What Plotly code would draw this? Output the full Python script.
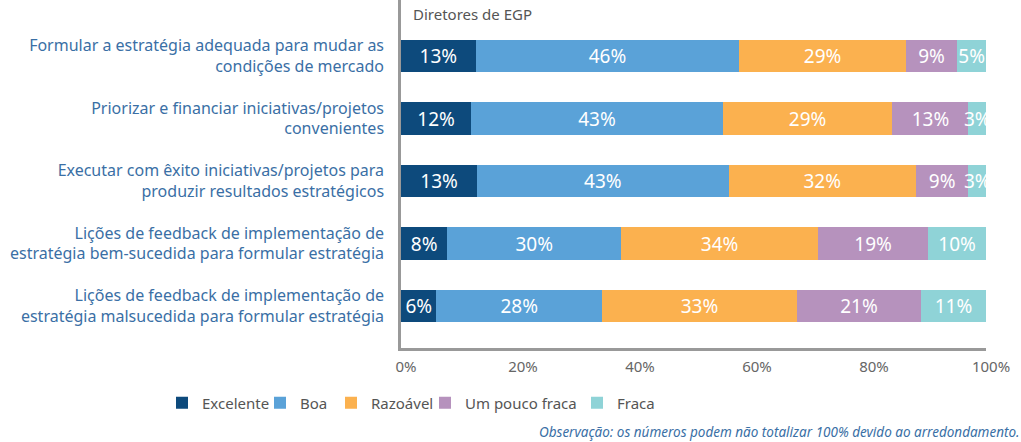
import plotly.graph_objects as go

categories = [
    "Formular a estratégia adequada para mudar as<br>condições de mercado",
    "Priorizar e financiar iniciativas/projetos<br>convenientes",
    "Executar com êxito iniciativas/projetos para<br>produzir resultados estratégicos",
    "Lições de feedback de implementação de<br>estratégia bem-sucedida para formular estratégia",
    "Lições de feedback de implementação de<br>estratégia malsucedida para formular estratégia",
]
series_names = ["Excelente", "Boa", "Razoável", "Um pouco fraca", "Fraca"]
excelente = [13, 12, 13, 8, 6]
boa = [46, 43, 43, 30, 28]
razoavel = [29, 29, 32, 34, 33]
um_pouco_fraca = [9, 13, 9, 19, 21]
fraca = [5, 3, 3, 10, 11]
tick_vals = [0, 20, 40, 60, 80, 100]
tick_labels = ["0%", "20%", "40%", "60%", "80%", "100%"]

series_values = [excelente, boa, razoavel, um_pouco_fraca, fraca]
colors = ["#0d4a7c", "#5aa2d8", "#fbb14f", "#b692bd", "#8fd3d7"]

FONT = "Noto Sans"
L, R, T, B = 401, 35, 0, 94
W, H = 1021, 442
plot_w = W - L - R
plot_h = H - T - B

# legend box left x positions (px) and centre y
legend_left_px = [162, 260, 331, 425, 577]
legend_y_px = 403

fig = go.Figure()
for i, (name, vals, col) in enumerate(zip(series_names, series_values, colors)):
    leg = "legend" if i == 0 else f"legend{i+1}"
    fig.add_trace(go.Bar(
        y=categories, x=vals, name=name, orientation="h",
        marker=dict(color=col, line=dict(width=0)),
        text=[f"{v}%" for v in vals], textposition="inside",
        insidetextanchor="middle", textangle=0,
        textfont=dict(color="white", size=19, family=FONT),
        width=0.52, legend=leg, hoverinfo="skip",
    ))

layout_legends = {}
for i, px in enumerate(legend_left_px):
    key = "legend" if i == 0 else f"legend{i+1}"
    layout_legends[key] = dict(
        x=(px - L) / plot_w, xanchor="left",
        y=(plot_h - (legend_y_px - T)) / plot_h, yanchor="middle",
        orientation="h", bgcolor="rgba(0,0,0,0)",
        font=dict(family=FONT, size=15, color="#555555"),
        itemclick=False, itemdoubleclick=False,
    )

fig.update_layout(
    width=W, height=H,
    margin=dict(l=L, r=R, t=T, b=B),
    barmode="stack", barnorm="percent",
    plot_bgcolor="white", paper_bgcolor="white",
    font=dict(family=FONT),
    uniformtext=dict(mode="show", minsize=19),
    showlegend=True,
    **layout_legends,
)
fig.update_yaxes(
    type="category", autorange=False,
    categoryorder="array", categoryarray=categories[::-1],
    range=[-0.672, 4.896],
    showline=True, linecolor="#999999", linewidth=2.5,
    showgrid=False, ticks="", ticklabelstandoff=11,
    tickfont=dict(family=FONT, size=16, color="#3a6fa5"),
)
fig.update_xaxes(
    range=[0, 100], tickvals=tick_vals, ticktext=tick_labels,
    showline=True, linecolor="#999999", linewidth=2.5,
    showgrid=False, zeroline=False, ticks="",
    ticklabelstandoff=3, ticklabelshift=5,
    tickfont=dict(family=FONT, size=15, color="#666666"),
)
fig.add_annotation(
    text="Diretores de EGP", xref="paper", yref="paper",
    x=(411 - L) / plot_w, y=1, xanchor="left", yanchor="top", yshift=-2,
    showarrow=False, font=dict(family=FONT, size=15, color="#555555"),
)
fig.add_annotation(
    text="<i>Observação: os números podem não totalizar 100% devido ao arredondamento.</i>",
    xref="paper", yref="paper", x=(1019 - L) / plot_w, y=(plot_h - (432 - T)) / plot_h,
    xanchor="right", yanchor="middle", showarrow=False, xshift=3,
    font=dict(family=FONT, size=13.5, color="#3a6fa5"),
)

fig.write_html("out.html")
